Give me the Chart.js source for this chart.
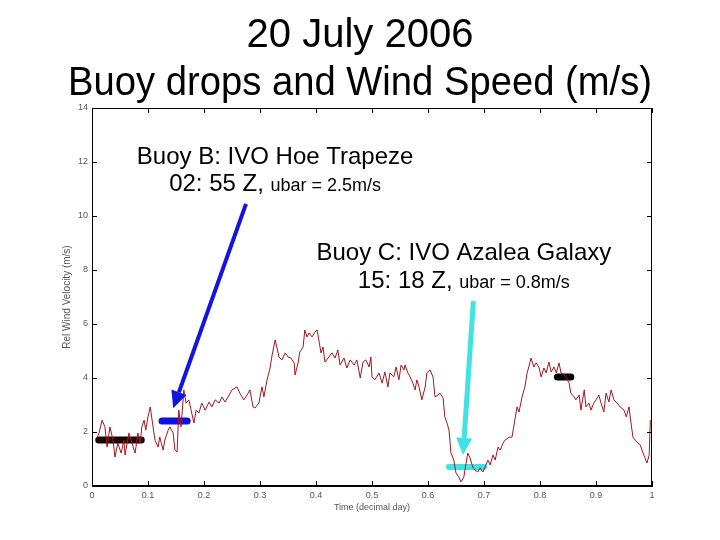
<!DOCTYPE html>
<html>
<head>
<meta charset="utf-8">
<script src="https://cdn.jsdelivr.net/npm/chart.js@4/dist/chart.umd.min.js"></script>
<style>
  html, body { margin: 0; padding: 0; background: #fff; }
  #wrap { width: 720px; height: 540px; }
</style>
</head>
<body>
<div id="wrap"><canvas id="c" width="720" height="540"></canvas></div>
<script>
// ---- Data ----
const titleLines = ['20 July 2006', 'Buoy drops and Wind Speed (m/s)'];
const xAxisLabel = 'Time (decimal day)';
const yAxisLabel = 'Rel Wind Velocity (m/s)';

// time in decimal day
const times = [
  0.009,0.0125,0.018,0.023,0.027,0.032,0.0375,0.041,0.046,0.052,0.057,0.059,0.066,0.070,0.075,0.077,0.082,0.086,0.089,0.093,
  0.096,0.100,0.104,0.109,0.1125,0.118,0.121,0.127,0.130,0.136,0.139,0.145,0.148,0.152,0.155,0.159,0.164,0.168,0.173,0.177,
  0.182,0.186,0.191,0.196,0.202,0.209,0.214,0.220,0.227,0.232,0.2375,0.245,
  0.250,0.259,0.264,0.271,0.277,0.282,0.2875,0.291,0.298,0.3035,0.307,0.3125,0.318,0.321,0.327,0.330,0.334,0.339,0.345,0.350,
  0.355,0.361,0.3625,0.368,0.371,0.377,0.380,0.384,0.3875,0.393,0.398,0.402,0.405,0.409,0.4125,0.416,0.423,0.4285,0.434,0.439,
  0.443,0.450,0.455,0.461,0.468,0.473,0.479,0.484,0.489,0.495,0.498,
  0.500,0.505,0.5125,0.518,0.523,0.5285,0.532,0.539,0.543,0.548,0.552,0.557,0.559,0.564,0.568,0.573,0.577,0.580,0.584,0.589,
  0.595,0.598,0.6035,0.609,0.6125,0.618,0.621,0.627,0.630,0.634,0.6375,0.641,0.646,0.650,0.655,0.659,0.664,0.668,0.671,0.675,
  0.680,0.684,0.689,0.693,0.698,0.702,0.707,0.711,0.716,0.720,0.725,0.729,0.734,0.7375,0.745,
  0.750,0.755,0.759,0.7625,0.768,0.773,0.777,0.780,0.784,0.789,0.793,0.798,0.802,0.807,0.811,0.816,0.820,0.825,0.829,0.834,
  0.8375,0.843,0.846,0.852,0.855,0.861,0.864,0.870,0.873,0.879,0.882,0.8875,0.891,0.896,0.900,0.905,0.909,0.914,0.918,0.923,
  0.927,0.932,0.9375,0.943,0.950,0.954,0.959,0.9625,0.966,0.970,0.975,0.979,0.984,0.9875,0.991,0.995,0.997
];

// wind speed, m/s
const windSpeed = [
  1.78,1.96,2.44,2.19,1.44,2.19,1.70,1.07,1.59,1.22,1.70,1.15,1.96,1.70,1.33,1.22,1.96,1.59,2.19,2.44,
  2.07,2.56,2.93,2.19,1.70,1.44,1.81,1.33,1.70,2.07,2.19,1.96,1.33,1.26,2.81,2.19,3.56,3.07,3.19,2.81,
  2.33,2.81,2.70,3.07,2.81,3.11,2.93,3.19,3.07,3.30,3.11,3.37,
  3.56,3.67,3.44,3.19,3.37,3.56,2.93,2.89,3.07,3.67,3.30,3.93,4.37,4.78,5.41,5.15,4.78,4.67,4.93,4.78,
  4.74,4.56,4.11,4.56,4.96,5.15,5.78,5.52,5.67,5.52,5.70,5.78,5.41,4.93,5.15,4.59,4.78,4.93,4.74,5.04,
  4.48,4.74,4.37,4.67,4.48,4.67,4.00,4.59,4.67,4.41,4.78,
  4.04,3.93,4.19,3.81,4.22,3.67,4.19,4.04,4.41,3.93,4.48,4.30,4.48,4.19,4.04,3.81,3.56,3.93,3.67,3.19,
  3.67,4.19,4.30,4.04,3.30,3.37,3.44,3.26,2.56,2.33,2.07,1.22,0.96,0.48,0.33,0.15,0.33,0.85,1.22,1.04,
  0.70,0.59,0.52,0.67,0.52,0.70,0.96,0.78,1.15,0.96,1.44,1.33,1.59,1.70,1.81,
  1.81,2.44,2.93,2.74,3.30,3.67,4.19,4.41,4.74,4.41,4.56,4.41,4.04,4.37,4.19,4.59,4.22,4.41,4.19,4.56,
  4.19,4.11,4.04,3.81,3.44,3.30,3.19,3.37,2.81,3.56,2.93,3.07,2.81,3.07,3.19,3.37,3.07,2.74,3.44,3.11,
  3.56,3.19,3.07,2.93,2.81,2.56,2.93,2.33,1.81,1.70,1.59,1.52,1.22,1.04,0.85,1.15,2.44
];

// buoy-drop mean-wind bars
const dropNames = ['Drop A', 'Buoy B', 'Buoy C', 'Drop D'];
const dropStart = [0.012, 0.125, 0.6375, 0.831];
const dropEnd   = [0.088, 0.170, 0.700, 0.855];
const dropUbar  = [1.70, 2.41, 0.70, 4.04];

// annotations: [x, y] in data units
const annB = { lines: ['Buoy B: IVO Hoe Trapeze', '02: 55 Z, ', 'ubar = 2.5m/s'], x: 0.327, y1: 11.93, y2: 10.93,
               arrowFrom: [0.275, 10.45], arrowTo: [0.145, 2.88] };
const annC = { lines: ['Buoy C: IVO Azalea Galaxy', '15: 18 Z, ', 'ubar = 0.8m/s'], x: 0.664, y1: 8.37, y2: 7.33,
               arrowFrom: [0.681, 6.85], arrowTo: [0.6625, 1.15] };

// ---- Styles ----
const dropColors = ['#1a0505', '#1010e0', '#3fe3e3', '#0a0000'];
const FONT = "'Liberation Sans', Arial, sans-serif";

const lineData = times.map((t, i) => ({ x: t, y: windSpeed[i] }));
const dropDatasets = dropNames.map((n, i) => ({
  label: n,
  data: [{ x: dropStart[i], y: dropUbar[i] }, { x: dropEnd[i], y: dropUbar[i] }],
  borderColor: dropColors[i],
  borderWidth: i === 2 ? 6 : 7,
  borderCapStyle: 'round',
  pointRadius: 0,
  order: 2
}));

function arrow(ctx, x0, y0, x1, y1, color, w, headLen, headHalf) {
  const ang = Math.atan2(y1 - y0, x1 - x0);
  const bx = x1 - headLen * Math.cos(ang), by = y1 - headLen * Math.sin(ang);
  ctx.strokeStyle = color; ctx.fillStyle = color; ctx.lineWidth = w; ctx.lineCap = 'butt';
  ctx.beginPath(); ctx.moveTo(x0, y0); ctx.lineTo(bx, by); ctx.stroke();
  ctx.beginPath();
  ctx.moveTo(x1, y1);
  ctx.lineTo(bx + headHalf * Math.sin(ang), by - headHalf * Math.cos(ang));
  ctx.lineTo(bx - headHalf * Math.sin(ang), by + headHalf * Math.cos(ang));
  ctx.closePath(); ctx.fill();
}

function annText(ctx, xs, ys, ann) {
  const cx = xs.getPixelForValue(ann.x);
  ctx.fillStyle = '#000';
  ctx.textBaseline = 'alphabetic';
  ctx.textAlign = 'left';
  ctx.font = '24px ' + FONT;
  const w1 = ctx.measureText(ann.lines[0]).width;
  ctx.fillText(ann.lines[0], cx - w1 / 2, ys.getPixelForValue(ann.y1));
  const wa = ctx.measureText(ann.lines[1]).width;
  ctx.font = '18px ' + FONT;
  const wb = ctx.measureText(ann.lines[2]).width;
  const sx = cx - (wa + wb) / 2;
  const by = ys.getPixelForValue(ann.y2);
  ctx.font = '24px ' + FONT;
  ctx.fillText(ann.lines[1], sx, by);
  ctx.font = '18px ' + FONT;
  ctx.fillText(ann.lines[2], sx + wa, by);
}

const overlay = {
  id: 'overlay',
  afterDraw(chart) {
    const { ctx, chartArea: a, scales: { x, y } } = chart;
    ctx.save();
    // frame
    ctx.strokeStyle = '#000'; ctx.lineWidth = 1;
    ctx.strokeRect(Math.round(a.left) + 0.5, Math.round(a.top) + 0.5,
                   Math.round(a.right - a.left) - 1, Math.round(a.bottom - a.top) - 1);
    // inward tick marks on all four sides
    ctx.beginPath();
    x.ticks.forEach(t => {
      const px = Math.round(x.getPixelForValue(t.value)) + 0.5;
      ctx.moveTo(px, a.bottom); ctx.lineTo(px, a.bottom - 5);
      ctx.moveTo(px, a.top); ctx.lineTo(px, a.top + 5);
    });
    y.ticks.forEach(t => {
      const py = Math.round(y.getPixelForValue(t.value)) + 0.5;
      ctx.moveTo(a.left, py); ctx.lineTo(a.left + 5, py);
      ctx.moveTo(a.right, py); ctx.lineTo(a.right - 5, py);
    });
    ctx.stroke();
    // arrows
    arrow(ctx, x.getPixelForValue(annB.arrowFrom[0]), y.getPixelForValue(annB.arrowFrom[1]),
          x.getPixelForValue(annB.arrowTo[0]), y.getPixelForValue(annB.arrowTo[1]), '#1414dc', 4, 17, 8);
    arrow(ctx, x.getPixelForValue(annC.arrowFrom[0]), y.getPixelForValue(annC.arrowFrom[1]),
          x.getPixelForValue(annC.arrowTo[0]), y.getPixelForValue(annC.arrowTo[1]), '#3fe3e3', 5, 17, 8);
    // texts
    annText(ctx, x, y, annB);
    annText(ctx, x, y, annC);
    ctx.restore();
  }
};

const fmtTick = v => String(Number(v.toFixed(2)));

new Chart(document.getElementById('c'), {
  type: 'line',
  data: {
    datasets: [
      { label: 'Wind speed', data: lineData, borderColor: '#a3161c', borderWidth: 1,
        pointRadius: 0, tension: 0, order: 1 },
      ...dropDatasets
    ]
  },
  options: {
    responsive: false,
    animation: false,
    layout: { padding: { left: 68, right: 68, top: 0, bottom: 0 } },
    plugins: {
      legend: { display: false },
      tooltip: { enabled: false },
      title: {
        display: true,
        text: titleLines,
        color: '#000',
        font: { family: FONT, size: 40, weight: 'normal', lineHeight: 1.2 },
        padding: { top: 12, bottom: 0 }
      }
    },
    scales: {
      x: {
        type: 'linear', min: 0, max: 1,
        ticks: { stepSize: 0.1, color: '#555', font: { family: FONT, size: 9 }, padding: 4, maxRotation: 0,
                 callback: fmtTick },
        grid: { drawOnChartArea: false, drawTicks: false },
        border: { display: true, color: '#000' },
        title: { display: true, text: xAxisLabel, color: '#555', font: { family: FONT, size: 9 },
                 padding: { top: 0, bottom: 27 } },
        afterFit: s => { s.height = 54; }
      },
      y: {
        type: 'linear', min: 0, max: 14,
        ticks: { stepSize: 2, color: '#555', font: { family: FONT, size: 9 }, padding: 4, callback: fmtTick },
        grid: { drawOnChartArea: false, drawTicks: false },
        border: { display: true, color: '#000' },
        title: { display: true, text: yAxisLabel, color: '#555', font: { family: FONT, size: 10 },
                 padding: { top: -7, bottom: 0 } },
        afterFit: s => { s.width = 24; }
      }
    }
  },
  plugins: [overlay]
});
</script>
</body>
</html>
